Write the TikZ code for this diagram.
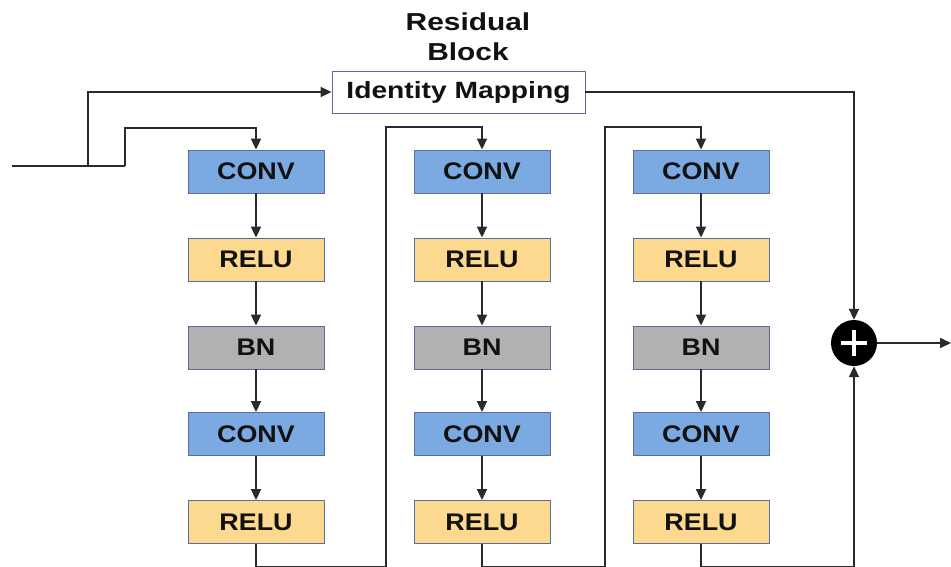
\documentclass[tikz,border=0pt]{standalone}
\usepackage{fontspec}
\usepackage{graphicx}
\setmainfont{Liberation Sans}
\usetikzlibrary{arrows.meta}
\definecolor{convblue}{HTML}{7BAAE3}
\definecolor{reluyellow}{HTML}{FDD88F}
\definecolor{bngray}{HTML}{B1B1B1}
\definecolor{boxborder}{HTML}{5B6C9C}
\definecolor{linecol}{HTML}{2A2A2A}
\definecolor{txtcol}{HTML}{111111}
\newcommand{\wdtxt}[1]{\scalebox{1.22}[1]{#1}}
\newcommand{\bxtxt}[1]{\scalebox{1.12}[1]{#1}}
\tikzset{
  blk/.style={draw=boxborder, line width=0.9pt, minimum width=136pt, minimum height=43pt, inner sep=0pt,
    text=txtcol, font=\fontsize{24}{28}\selectfont\bfseries},
  convbox/.style={blk, fill=convblue},
  relubox/.style={blk, fill=reluyellow},
  bnbox/.style={blk, fill=bngray},
  ln/.style={draw=linecol, line width=1.9pt},
  arr/.style={ln, -{Triangle[length=11pt,width=10pt]}},
}
\begin{document}
\begin{tikzpicture}[x=1pt,y=-1pt]
\useasboundingbox (0,0) rectangle (951,566);
% title
\node[text=txtcol, font=\fontsize{24.5}{30}\selectfont\bfseries, align=center] (title) at (468,37) {\wdtxt{Residual}\\\wdtxt{Block}};
\node[draw=boxborder, line width=0.9pt, fill=white, minimum width=253pt, minimum height=42pt, inner sep=0pt,
  text=txtcol, font=\fontsize{23.5}{26}\selectfont\bfseries] (id) at (458.5,92) {\scalebox{1.2}[1]{Identity Mapping}};
% column 1
\node[convbox] (c1a) at (256,171.5) {\bxtxt{CONV}};
\node[relubox] (r1a) at (256,259.5) {\bxtxt{RELU}};
\node[bnbox]   (b1a) at (256,347.5) {\bxtxt{BN}};
\node[convbox] (c2a) at (256,434) {\bxtxt{CONV}};
\node[relubox] (r2a) at (256,522) {\bxtxt{RELU}};
% column 2
\node[convbox] (c1b) at (482,171.5) {\bxtxt{CONV}};
\node[relubox] (r1b) at (482,259.5) {\bxtxt{RELU}};
\node[bnbox]   (b1b) at (482,347.5) {\bxtxt{BN}};
\node[convbox] (c2b) at (482,434) {\bxtxt{CONV}};
\node[relubox] (r2b) at (482,522) {\bxtxt{RELU}};
% column 3
\node[convbox] (c1c) at (701,171.5) {\bxtxt{CONV}};
\node[relubox] (r1c) at (701,259.5) {\bxtxt{RELU}};
\node[bnbox]   (b1c) at (701,347.5) {\bxtxt{BN}};
\node[convbox] (c2c) at (701,434) {\bxtxt{CONV}};
\node[relubox] (r2c) at (701,522) {\bxtxt{RELU}};
% adder
\node[circle, fill=black, minimum size=46pt, inner sep=0pt] (plus) at (854,343) {};
\draw[white, line width=4.5pt] ([xshift=-13pt]plus.center) -- ([xshift=13pt]plus.center)
  ([yshift=-13pt]plus.center) -- ([yshift=13pt]plus.center);
% coordinates
\coordinate (in) at (12,166);
\coordinate (s1) at (88,166);
\coordinate (s2) at (125,166);
\coordinate (u1) at (125,128);
\coordinate (l1) at (386,566.6);
\coordinate (t1) at (386,127);
\coordinate (l2) at (605,566.6);
\coordinate (t2) at (605,127);
\coordinate (l3) at (854,566.6);
\coordinate (out) at (951,343);
% input
\draw[ln] (in) -- (s2);
\draw[arr] (s2) -- (u1) -| (c1a.north);
\draw[arr] (s1) |- (id.west);
% vertical chains
\foreach \c in {a,b,c}{
  \draw[arr] (c1\c.south) -- (r1\c.north);
  \draw[arr] (r1\c.south) -- (b1\c.north);
  \draw[arr] (b1\c.south) -- (c2\c.north);
  \draw[arr] (c2\c.south) -- (r2\c.north);
}
% loops between columns
\draw[arr] (r2a.south) |- (l1) -- (t1) -| (c1b.north);
\draw[arr] (r2b.south) |- (l2) -- (t2) -| (c1c.north);
\draw[arr] (r2c.south) |- (l3) -- (plus.south);
% identity path
\draw[arr] (id.east) -| (plus.north);
\draw[arr] (plus.east) -- (out);
\end{tikzpicture}
\end{document}
